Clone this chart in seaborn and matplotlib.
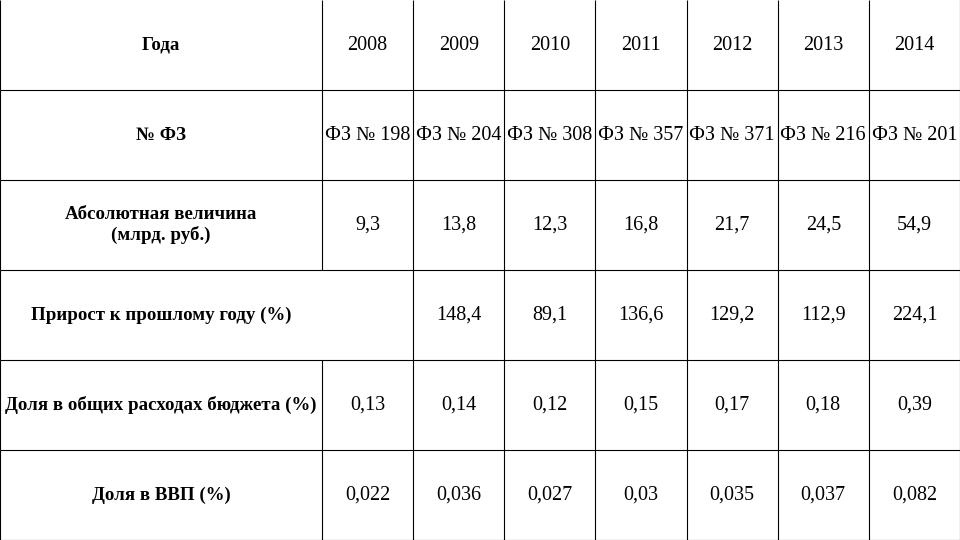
import matplotlib
matplotlib.use('Agg')
import matplotlib.pyplot as plt
import seaborn as sns

years = ['2008', '2009', '2010', '2011', '2012', '2013', '2014']
laws = ['ФЗ № 198', 'ФЗ № 204', 'ФЗ № 308', 'ФЗ № 357', 'ФЗ № 371', 'ФЗ № 216', 'ФЗ № 201']
absolute = ['9,3', '13,8', '12,3', '16,8', '21,7', '24,5', '54,9']
growth = ['', '148,4', '89,1', '136,6', '129,2', '112,9', '224,1']
budget_share = ['0,13', '0,14', '0,12', '0,15', '0,17', '0,18', '0,39']
gdp_share = ['0,022', '0,036', '0,027', '0,03', '0,035', '0,037', '0,082']
row_labels = ['Года', '№ ФЗ', 'Абсолютная величина\n(млрд. руб.)',
              'Прирост к прошлому году (%)', 'Доля в общих расходах бюджета (%)', 'Доля в ВВП (%)']
rows = [years, laws, absolute, growth, budget_share, gdp_share]

sns.set_style('white')
plt.rcParams['font.family'] = ['Liberation Serif', 'DejaVu Serif']

fig = plt.figure(figsize=(9.6, 5.4), dpi=100)
ax = fig.add_axes([0, 0, 1, 1])
# column edges in pixel units: first column wider
edges = [0, 322] + [322 + 91.14 * (i + 1) for i in range(7)]
n_rows = len(rows)
row_h = 540 / n_rows
ax.set_xlim(0, 960)
ax.set_ylim(540, 0)
ax.axis('off')

for r in range(1, n_rows + 1):
    ax.hlines(r * row_h, 0, 960, color='black', lw=0.8)
for c, x in enumerate(edges):
    for r in range(n_rows):
        if c == 1 and r == 3:
            continue
        ax.vlines(x, r * row_h, (r + 1) * row_h, color='black', lw=0.8)

for r, (label, vals) in enumerate(zip(row_labels, rows)):
    yc = (r + 0.5) * row_h
    ax.text(161, yc, label, ha='center', va='center', fontsize=13.6,
            fontweight='bold', color='black', linespacing=1.15)
    for c, v in enumerate(vals):
        x0 = (edges[c + 1] + edges[c + 2]) / 2
        ax.text(x0, yc, v, ha='center', va='center', fontsize=14.5, color='black')

fig.savefig('out.png', dpi=100)
